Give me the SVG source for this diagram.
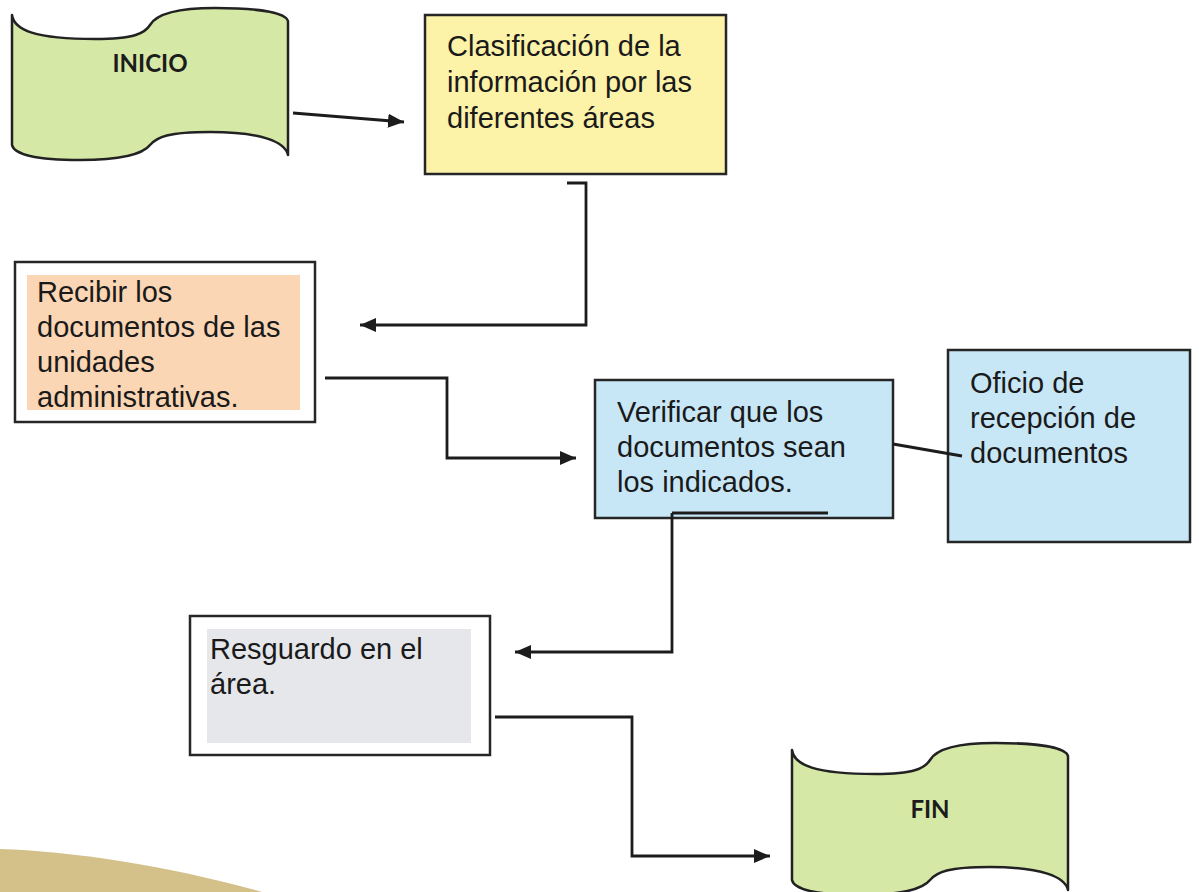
<svg xmlns="http://www.w3.org/2000/svg" width="1199" height="892" viewBox="0 0 1199 892">
  <style>
    .box { stroke: #262626; stroke-width: 2.5; }
    .tape { fill: #d5e8a6; stroke: #222; stroke-width: 2.5; stroke-linejoin: round; }
    .t { font-family: "Liberation Sans", Arial, sans-serif; font-size: 29px; fill: #1a1a1a; }
    .tt { font-family: Lato, "Open Sans", sans-serif; font-weight: 700; font-size: 24px; fill: #1c1c1c; text-anchor: middle; }
    .c { fill: none; stroke: #1c1c1c; stroke-width: 2.8; }
  </style>
  <defs>
    <marker id="arr" viewBox="0 0 16 14" refX="16" refY="7" markerWidth="16" markerHeight="14" markerUnits="userSpaceOnUse" orient="auto">
      <path d="M0,0 L16,7 L0,14 Z" fill="#1c1c1c"/>
    </marker>
    <path id="tapeShape" d="M12,15 C14,30 35,39 95,39 C135,39 145,33 150,25 C157,13 180,8 215,8 C265,8 286,14 288,21 L288,155 C285,142 262,132 210,132 C168,132 157,137 150,145 C143,154 120,160 80,160 C35,160 14,154 12,145 Z"/>
  </defs>
  <rect width="1199" height="892" fill="#ffffff"/>
  <path d="M0,849 C70,851 170,866 262,892 L0,892 Z" fill="#d4c089"/>

  <g id="inicio">
    <use href="#tapeShape" class="tape"/>
    <text class="tt" x="150" y="72">INICIO</text>
  </g>

  <g id="clasificacion">
    <rect class="box" x="425" y="15" width="301" height="159" fill="#fcf2a8"/>
    <text class="t" x="447" y="56">Clasificación de la</text>
    <text class="t" x="447" y="92">información por las</text>
    <text class="t" x="447" y="128">diferentes áreas</text>
  </g>

  <g id="recibir">
    <rect class="box" x="15" y="262" width="300" height="160" fill="#ffffff"/>
    <rect x="27" y="275" width="273" height="135" fill="#fbd6b4"/>
    <text class="t" x="37" y="302">Recibir los</text>
    <text class="t" x="37" y="337">documentos de las</text>
    <text class="t" x="37" y="372">unidades</text>
    <text class="t" x="37" y="407">administrativas.</text>
  </g>

  <g id="verificar">
    <rect class="box" x="595" y="380" width="298" height="138" fill="#c8e7f6"/>
    <text class="t" x="617" y="422">Verificar que los</text>
    <text class="t" x="617" y="457">documentos sean</text>
    <text class="t" x="617" y="492">los indicados.</text>
  </g>

  <g id="oficio">
    <rect class="box" x="948" y="350" width="242" height="192" fill="#c8e7f6"/>
    <text class="t" x="970" y="393">Oficio de</text>
    <text class="t" x="970" y="428">recepción de</text>
    <text class="t" x="970" y="463">documentos</text>
  </g>

  <g id="resguardo">
    <rect class="box" x="190" y="616" width="300" height="139" fill="#ffffff"/>
    <rect x="207" y="629" width="264" height="114" fill="#e6e7eb"/>
    <text class="t" x="210" y="659">Resguardo en el</text>
    <text class="t" x="210" y="694">área.</text>
  </g>

  <g id="fin">
    <use href="#tapeShape" class="tape" transform="translate(780,735)"/>
    <text class="tt" x="930" y="818">FIN</text>
  </g>

  <g id="connectors">
    <path class="c" d="M293,113 L404,122" marker-end="url(#arr)"/>
    <path class="c" d="M567,183 H586 V325 H360" marker-end="url(#arr)"/>
    <path class="c" d="M325,378 H447 V458 H576" marker-end="url(#arr)"/>
    <path class="c" d="M893,444 L962,456"/>
    <path class="c" d="M672,513 H828"/>
    <path class="c" d="M672,513 V652 H515" marker-end="url(#arr)"/>
    <path class="c" d="M495,717 H632 V856 H770" marker-end="url(#arr)"/>
  </g>
</svg>
